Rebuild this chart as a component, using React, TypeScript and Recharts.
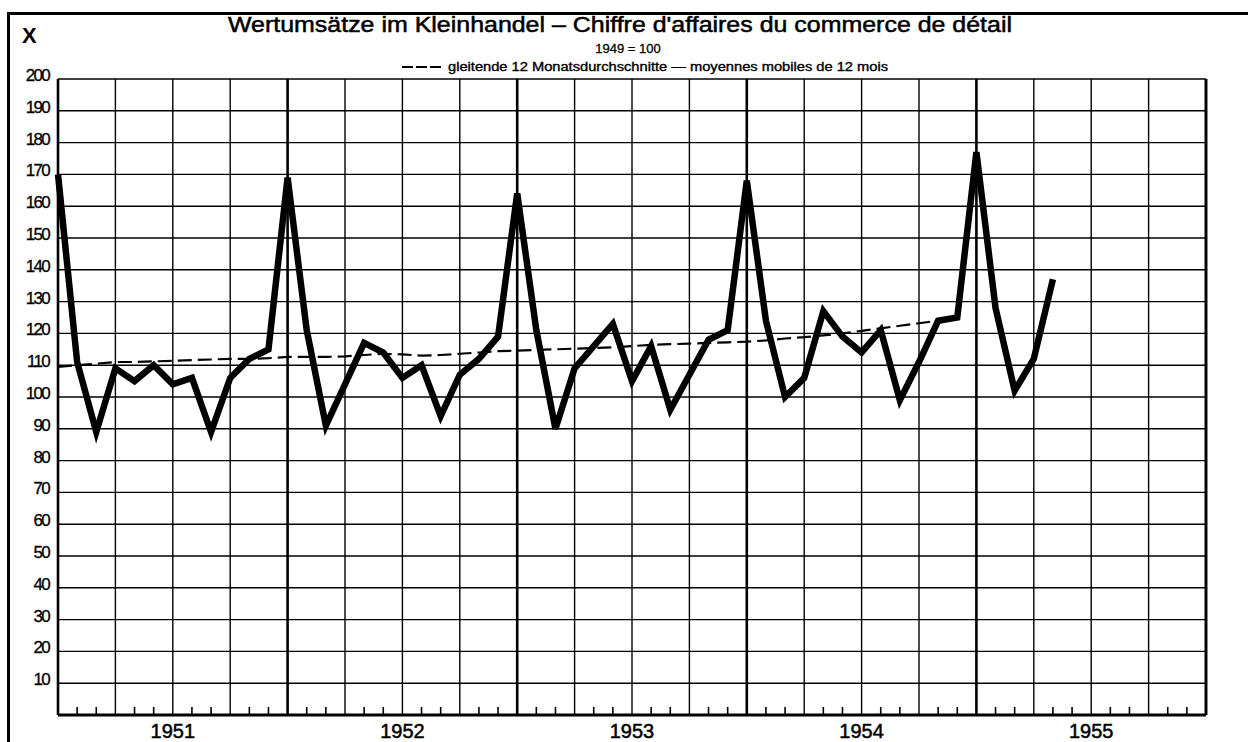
import { CartesianGrid, Line, LineChart, ReferenceLine, XAxis, YAxis } from 'recharts';

// monthly index, Dec 1950 = 0 ... Apr 1955 = 52
const sales = [
	170, 111, 89, 109, 105, 110, 104, 106, 89, 106, 112, 115,
	169, 121, 91, 104, 117, 114, 106, 110, 94, 107, 112, 119,
	164, 121, 90, 109, 116, 123, 105, 116, 96, 107, 118, 121,
	168, 124, 100, 106, 127, 119, 114, 121, 99, 111, 124, 125,
	177, 128, 102, 112, 137
];

// gleitende 12 Monatsdurchschnitte
const movingAvg = [
	109.5, 110, 110.5, 111, 111, 111.2, 111.4, 111.6, 111.8, 112, 112, 112.2,
	112.6, 112.6, 112.6, 112.8, 113.2, 113.6, 113.4, 113, 113.2, 113.6, 114, 114.4,
	114.6, 114.8, 115, 115.2, 115.4, 115.6, 116, 116.4, 116.6, 116.8, 117, 117.2,
	117.4, 117.8, 118.4, 118.8, 119.4, 120, 120.8, 121.6, 122.4, 123.2, 124
];

const yearLabels = ['1951', '1952', '1953', '1954', '1955'];
const yTicks = [10, 20, 30, 40, 50, 60, 70, 80, 90, 100, 110, 120, 130, 140, 150, 160, 170, 180, 190, 200];
const monthTicks = Array.from({ length: 61 }, (_, i) => i);
const quarterLines = monthTicks.filter((m) => m % 3 === 0);

const FONT = '"Liberation Sans", Arial, sans-serif';

const rows = sales.map((v, i) => ({ m: i, sales: v, avg: movingAvg[i] }));

function MonthTick(props: any) {
	const { x, y, payload } = props;
	const m = payload.value as number;
	if (m % 12 === 6) {
		return (
			<text x={x} y={y + 23} textAnchor="middle" fontSize={20} fontFamily={FONT} fill="#000" stroke="#000" strokeWidth={0.5}>
				{yearLabels[(m - 6) / 12]}
			</text>
		);
	}
	if (m % 3 !== 0) {
		return <line x1={x} x2={x} y1={y} y2={y - 8} stroke="#000" strokeWidth={1.6} />;
	}
	return <g />;
}

function ValueTick(props: any) {
	const { x, y, payload, textAnchor } = props;
	return (
		<text x={x} y={y + 2} textAnchor={textAnchor} fontSize={17} letterSpacing={-1.7} fontFamily={FONT} fill="#000" stroke="#000" strokeWidth={0.3}>
			{payload.value}
		</text>
	);
}

export default function App() {
	return (
		<div style={{ position: 'absolute', left: 0, top: 0, width: 1248, height: 742, background: '#fff' }}>
			<LineChart width={1248} height={742} data={rows} margin={{ top: 79, right: 0, bottom: 0, left: 0 }}>
				<CartesianGrid vertical={false} stroke="#000" strokeWidth={1.4} />
				<XAxis
					dataKey="m"
					type="number"
					domain={[0, 60]}
					ticks={monthTicks}
					interval={0}
					height={27}
					tickSize={0}
					tickMargin={0}
					tick={<MonthTick />}
					axisLine={{ stroke: '#000', strokeWidth: 3 }}
				/>
				<YAxis
					domain={[0, 200]}
					ticks={yTicks}
					interval={0}
					width={58}
					tickSize={0}
					tickMargin={9}
					tick={<ValueTick />}
					axisLine={{ stroke: '#000', strokeWidth: 2 }}
				/>
				<YAxis
					yAxisId="r"
					orientation="right"
					domain={[0, 200]}
					ticks={yTicks}
					interval={0}
					width={42}
					tickSize={0}
					tickMargin={8}
					tick={<ValueTick />}
					axisLine={{ stroke: '#000', strokeWidth: 2.5 }}
				/>
				{quarterLines.map((m) => (
					<ReferenceLine
						key={m}
						x={m}
						stroke="#000"
						strokeWidth={m % 12 === 0 ? 2.6 : 1.4}
					/>
				))}
				<Line
					dataKey="avg"
					stroke="#000"
					strokeWidth={2.2}
					strokeDasharray="14 6"
					dot={false}
					activeDot={false}
					isAnimationActive={false}
				/>
				<Line
					dataKey="sales"
					stroke="#000"
					strokeWidth={6.5}
					dot={false}
					activeDot={false}
					isAnimationActive={false}
				/>
			</LineChart>
			<svg
				width={1248}
				height={742}
				style={{ position: 'absolute', left: 0, top: 0, pointerEvents: 'none' }}
			>
				<line x1={8.5} x2={8.5} y1={12} y2={742} stroke="#000" strokeWidth={3} />
				<line x1={7} x2={1248} y1={13.5} y2={13.5} stroke="#000" strokeWidth={3} />
				<text x={22} y={43} fontSize={22} fontWeight="bold" fontFamily={FONT}>X</text>
				<text x={620} y={32} textAnchor="middle" fontSize={22} fontFamily={FONT} stroke="#000" strokeWidth={0.5} textLength={784} lengthAdjust="spacingAndGlyphs">
					Wertumsätze im Kleinhandel – Chiffre d'affaires du commerce de détail
				</text>
				<text x={628} y={53} textAnchor="middle" fontSize={13} fontFamily={FONT} stroke="#000" strokeWidth={0.3}>1949 = 100</text>
				<line x1={402} x2={442} y1={67} y2={67} stroke="#000" strokeWidth={1.8} strokeDasharray="11 3" />
				<text x={448} y={71} fontSize={12} fontFamily={FONT} stroke="#000" strokeWidth={0.35} textLength={440} lengthAdjust="spacingAndGlyphs">
					gleitende 12 Monatsdurchschnitte — moyennes mobiles de 12 mois
				</text>
			</svg>
		</div>
	);
}
